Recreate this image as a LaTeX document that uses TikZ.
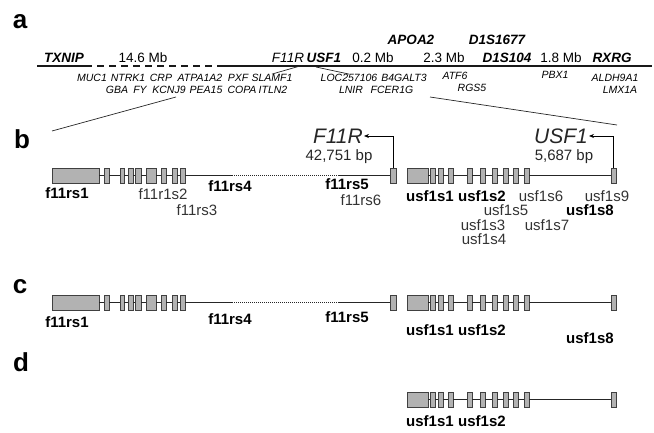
\documentclass[tikz,border=0pt]{standalone}
\usepackage{fontspec}
\setmainfont{Liberation Sans}
\usetikzlibrary{arrows.meta}

\begin{document}
\begin{tikzpicture}[x=1pt, y=-1pt,
  panel/.style={font=\fontsize{26}{26}\selectfont\bfseries, inner sep=0pt},
  gene/.style={font=\fontsize{10.5}{10.5}\selectfont\itshape, inner sep=0pt},
  locus/.style={font=\fontsize{13.5}{13.5}\selectfont\bfseries\itshape, inner sep=0pt},
  dist/.style={font=\fontsize{13.5}{13.5}\selectfont, inner sep=0pt},
  chrom/.style={line width=1.3pt, black!90},
  zoomline/.style={line width=0.7pt, black!85},
  exon/.style={draw=black!75, fill=black!30, line width=0.8pt, inner sep=0pt, minimum height=15pt},
  intron/.style={line width=1pt, black!85},
  snp/.style={font=\fontsize{15}{15}\selectfont, inner sep=0pt, text=black!80},
  tagsnp/.style={font=\fontsize{15}{15}\selectfont\bfseries, inner sep=0pt},
  title/.style={font=\fontsize{21}{21}\selectfont\itshape, inner sep=1pt, text=black!85},
  size/.style={font=\fontsize{15}{15}\selectfont, inner sep=0pt, text=black!85}
]
\useasboundingbox (0,0) rectangle (654,433);

\node[panel] (pa) at (20,22) {a};
\node[panel] (pb) at (22,139) {b};
\node[panel] (pc) at (20,287) {c};
\node[panel] (pd) at (21,362) {d};

\coordinate (chrL) at (37,66);
\coordinate (chrD1) at (85,66);
\coordinate (chrD2) at (224,66);
\coordinate (chrR) at (652,66);
\draw[chrom] (chrL) -- (chrD1);
\draw[chrom, dash pattern=on 7pt off 5pt] (chrD1) -- (chrD2);
\draw[chrom] (chrD2) -- (chrR);

\node[locus] (tTXNIP) at (64,58) {TXNIP};
\node[dist] (d146) at (143,58) {14.6 Mb};
\node[dist, font=\fontsize{13.5}{13.5}\selectfont\itshape] (tF11R) at (288,58) {F11R};
\node[locus] (tUSF1) at (324,58) {USF1};
\node[dist] (d02) at (373,58) {0.2 Mb};
\node[locus] (tAPOA2) at (411,40) {APOA2};
\node[dist] (d23) at (444,58) {2.3 Mb};
\node[locus] (tD1S1677) at (497,40) {D1S1677};
\node[locus] (tD1S104) at (507,58) {D1S104};
\node[dist] (d18) at (561,58) {1.8 Mb};
\node[locus] (tRXRG) at (612,58) {RXRG};

\foreach \g/\x in {MUC1/92, NTRK1/128, CRP/161, ATPA1A2/200, PXF/238, SLAMF1/272, LOC257106/349, B4GALT3/404, ALDH9A1/615}
  \node[gene] (g-\g) at (\x,78) {\g};
\foreach \g/\x in {GBA/117, FY/140, KCNJ9/169, PEA15/206, COPA/242, ITLN2/273, LNIR/351, FCER1G/392, LMX1A/620}
  \node[gene] (g-\g) at (\x,90) {\g};
\node[gene] (g-ATF6) at (455,76) {ATF6};
\node[gene] (g-RGS5) at (472,88) {RGS5};
\node[gene] (g-PBX1) at (555,75) {PBX1};

\coordinate (f11rpos) at (300,66);
\coordinate (usf1pos) at (316,67);
\draw[zoomline] (g-SLAMF1.north) -- (f11rpos);
\draw[zoomline] (usf1pos) -- (g-LOC257106.north);

\coordinate (zl1) at (176,97);
\coordinate (zl2) at (52,131);
\coordinate (zr1) at (430,97);
\coordinate (zr2) at (617,125);
\draw[zoomline] (zl1) -- (zl2);
\draw[zoomline] (zr1) -- (zr2);

\foreach \r/\y in {b/175.5, c/302.5} {
  \foreach \a/\b [count=\i] in {52/99, 104/109, 120/124, 128/133, 135/141, 146/156, 161/166, 172/177, 180/185, 390/396}
    \node[exon, minimum width={(\b-\a)*1pt}] (f\r\i) at ({(\a+\b)/2},\y) {};
  \foreach \i [evaluate=\i as \j using int(\i+1)] in {1,...,8}
    \draw[intron] (f\r\i.east) -- (f\r\j.west);
  \coordinate (gap\r1) at (232,\y);
  \coordinate (gap\r2) at (338,\y);
  \draw[intron] (f\r9.east) -- (gap\r1);
  \draw[intron, dash pattern=on 1pt off 1pt] (gap\r1) -- (gap\r2);
  \draw[intron] (gap\r2) -- (f\r10.west);
}
\foreach \r/\y in {b/175.5, c/302.5, d/399.5} {
  \foreach \a/\b [count=\i] in {407/428, 430/435, 438/443, 448/453, 467/472, 480/485, 492/497, 503/508, 513/518, 524/529, 611/616}
    \node[exon, minimum width={(\b-\a)*1pt}] (u\r\i) at ({(\a+\b)/2},\y) {};
  \foreach \i [evaluate=\i as \j using int(\i+1)] in {1,...,10}
    \draw[intron] (u\r\i.east) -- (u\r\j.west);
}

\node[title, anchor=east] (f11rtitle) at (364,136) {F11R};
\node[size] (f11rsize) at (339,157) {42,751 bp};
\node[title, anchor=east] (usf1title) at (589,136) {USF1};
\node[size] (usf1size) at (564,157) {5,687 bp};
\draw[-{Stealth[length=5pt,width=4pt]}, line width=0.7pt] (fb10.north) |- (f11rtitle.east);
\draw[-{Stealth[length=5pt,width=4pt]}, line width=0.7pt] (ub11.north) |- (usf1title.east);

\node[tagsnp] (b-f11rs1) at (67,193) {f11rs1};
\node[snp] (b-f11r1s2) at (163,194) {f11r1s2};
\node[snp] (b-f11rs3) at (197,210) {f11rs3};
\node[tagsnp] (b-f11rs4) at (230,186) {f11rs4};
\node[tagsnp] (b-f11rs5) at (347,184) {f11rs5};
\node[snp] (b-f11rs6) at (361,200) {f11rs6};
\node[tagsnp] (b-usf1s1) at (430,196) {usf1s1};
\node[tagsnp] (b-usf1s2) at (482,196) {usf1s2};
\node[snp] (b-usf1s6) at (541,196) {usf1s6};
\node[snp] (b-usf1s9) at (607,196) {usf1s9};
\node[snp] (b-usf1s5) at (506,210) {usf1s5};
\node[tagsnp] (b-usf1s8) at (590,210) {usf1s8};
\node[snp] (b-usf1s3) at (483,225) {usf1s3};
\node[snp] (b-usf1s7) at (547,225) {usf1s7};
\node[snp] (b-usf1s4) at (484,239) {usf1s4};

\node[tagsnp] (c-f11rs1) at (67,322) {f11rs1};
\node[tagsnp] (c-f11rs4) at (230,319) {f11rs4};
\node[tagsnp] (c-f11rs5) at (347,317) {f11rs5};
\node[tagsnp] (c-usf1s1) at (430,330) {usf1s1};
\node[tagsnp] (c-usf1s2) at (482,330) {usf1s2};
\node[tagsnp] (c-usf1s8) at (590,338) {usf1s8};

\node[tagsnp] (d-usf1s1) at (430,421) {usf1s1};
\node[tagsnp] (d-usf1s2) at (482,421) {usf1s2};
\end{tikzpicture}
\end{document}
